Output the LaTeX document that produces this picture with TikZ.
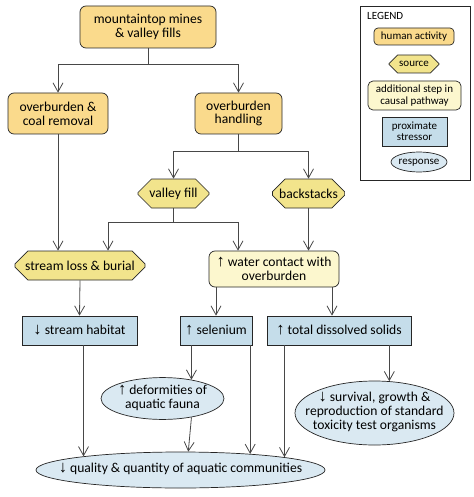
\documentclass[tikz,border=0pt]{standalone}
\usepackage{fontspec}
\setmainfont{Carlito}
\newfontfamily\arrfont{Liberation Sans}
\usetikzlibrary{arrows.meta,shapes.misc,shapes.geometric}
\newcommand\upa{{\arrfont\fontsize{16.5}{13.8}\selectfont\char"2191}}
\newcommand\dna{{\arrfont\fontsize{16.5}{13.8}\selectfont\char"2193}}
\newcommand\zt[1]{\makebox[0pt][c]{\begin{tabular}{@{}c@{}}#1\end{tabular}}}
\definecolor{humanc}{RGB}{250,218,140}
\definecolor{srcc}{RGB}{242,228,140}
\definecolor{addc}{RGB}{252,247,206}
\definecolor{strc}{RGB}{197,221,234}
\definecolor{respc}{RGB}{218,233,242}
\tikzset{
  base/.style={draw=black!85, line width=0.7pt, inner sep=1pt, align=center,
    font=\fontsize{13.6}{13.8}\selectfont},
  lgfont/.style={font=\fontsize{11}{11.4}\selectfont},
  human/.style={base, rounded corners=6pt, fill=humanc},
  srcbox/.style={base, chamfered rectangle, chamfered rectangle xsep=6.5pt, chamfered rectangle ysep=7pt, fill=srcc},
  addl/.style={base, rounded corners=6pt, fill=addc},
  stress/.style={base, fill=strc},
  resp/.style={base, ellipse, fill=respc},
  ln/.style={draw=black!72, line width=0.8pt},
  arr/.style={ln, -{Straight Barb[length=9pt,width=10pt]}},
}
\begin{document}
\begin{tikzpicture}[x=1pt,y=-1pt]
\useasboundingbox (0,0) rectangle (473,497);
% main nodes
\node[human, minimum width=136pt, minimum height=42pt] (mt) at (148,27) {mountaintop mines\\\& valley fills};
\node[human, minimum width=100pt, minimum height=41pt] (obc) at (58,113.5) {overburden \&\\coal removal};
\node[human, minimum width=87pt, minimum height=41pt] (obh) at (238.5,113.5) {overburden\\handling};
\node[srcbox, minimum width=71pt, minimum height=29pt] (vf) at (173.5,193.5) {valley fill};
\node[srcbox, minimum width=69pt, minimum height=29pt] (bs) at (308.5,193.5) {backstacks};
\node[srcbox, minimum width=130pt, minimum height=29pt] (slb) at (80,265.5) {stream loss \& burial};
\node[addl, minimum width=130pt, minimum height=36pt] (wc) at (274,269) {\upa\ water contact with\\overburden};
\node[stress, minimum width=115pt, minimum height=29pt] (sh) at (79.5,330.5) {\dna\ stream habitat};
\node[stress, minimum width=72pt, minimum height=29pt] (se) at (216,330.5) {\upa\ selenium};
\node[stress, minimum width=144pt, minimum height=29pt] (tds) at (339,330.5) {\upa\ total dissolved solids};
\node[resp, minimum width=123pt, minimum height=37pt] (defo) at (162.5,398.5) {\zt{\upa\ deformities of\\aquatic fauna}};
\node[resp, minimum width=159pt, minimum height=64pt] (surv) at (374.5,413) {\zt{\dna\ survival, growth \&\\reproduction of standard\\toxicity test organisms}};
\node[resp, minimum width=289pt, minimum height=36pt] (qual) at (180.5,470) {\zt{\dna\ quality \& quantity of aquatic communities}};
% connectors
\draw[ln] (mt.south) -- ++(0,16) coordinate (j1);
\draw[arr] (j1) -| (obc.north);
\draw[arr] (j1) -| (obh.north);
\draw[ln] (obh.south) -- ++(0,17) coordinate (j2);
\draw[arr] (j2) -| (vf.north);
\draw[arr] (j2) -| (bs.north);
\draw[ln] (vf.south) -- ++(0,14) coordinate (j3);
\draw[arr] (j3) -| ([xshift=28pt]slb.north);
\draw[arr] (j3) -| ([xshift=-36pt]wc.north);
\draw[arr] (obc.south) -- (obc.south |- slb.north);
\draw[arr] (bs.south) -- (bs.south |- wc.north);
\draw[arr] (slb.south) -- (sh.north);
\draw[arr] (wc.south -| se.north) -- (se.north);
\draw[arr] ([xshift=-7pt]tds.north |- wc.south) -- ([xshift=-7pt]tds.north);
\draw[arr] (qual.172.67 |- sh.south) -- (qual.172.67);
\draw[arr] (defo.33.44 |- se.south) -- (defo.33.44);
\draw[arr] (defo.-33.44) -- (qual.67.36);
\draw[arr] (qual.13.76 |- se.south) -- (qual.13.76);
\draw[arr] (qual.7.33 |- tds.south) -- (qual.7.33);
\draw[arr] (surv.65.25 |- tds.south) -- (surv.65.25);
% legend
\draw[line width=0.6pt, draw=black!85] (360,6) rectangle (470,180);
\node[lgfont, anchor=west, inner sep=0pt] (lg) at (367,16) {LEGEND};
\node[human, lgfont, minimum width=80pt, minimum height=17pt, rounded corners=4pt] (lh) at (414,36.5) {human activity};
\node[srcbox, lgfont, minimum width=50pt, minimum height=18pt, chamfered rectangle xsep=5pt, chamfered rectangle ysep=5pt] (ls) at (414,64) {source};
\node[addl, lgfont, minimum width=93pt, minimum height=29pt, rounded corners=5pt] (la) at (414.5,95.5) {additional step in\\causal pathway};
\node[stress, lgfont, minimum width=65pt, minimum height=29pt] (lp) at (414.5,131.5) {proximate\\stressor};
\node[resp, lgfont, minimum width=56pt, minimum height=20pt] (lr) at (419,162) {\zt{response}};
\end{tikzpicture}
\end{document}
